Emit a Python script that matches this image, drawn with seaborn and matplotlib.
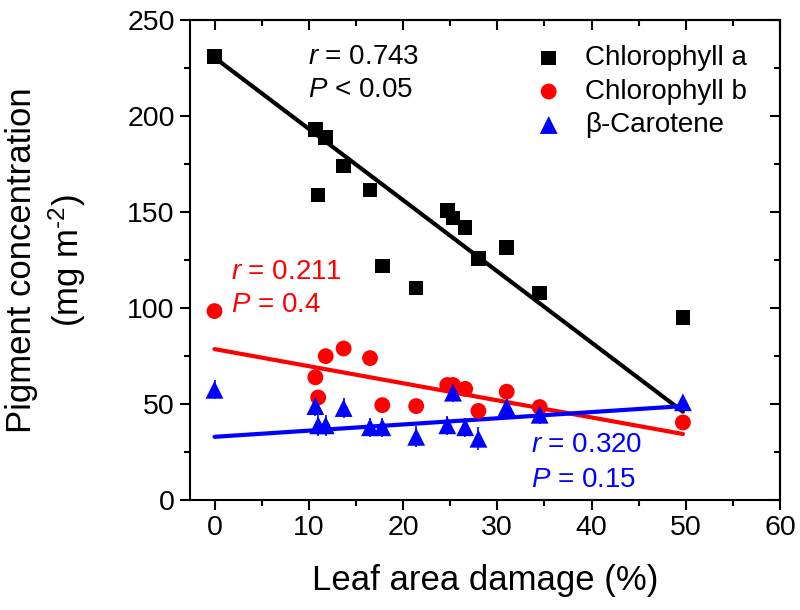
import numpy as np
import pandas as pd
import matplotlib
matplotlib.use("Agg")
import matplotlib.pyplot as plt
from matplotlib.ticker import MultipleLocator
import seaborn as sns

# data
damage = [0, 10.7, 11.0, 11.8, 13.7, 16.5, 17.8, 21.4, 24.7, 25.3, 26.6, 28.0, 31.0, 34.5, 49.7]
chl_a = [231, 193, 159, 189, 174, 161.5, 122, 110.5, 151, 147, 142, 126, 131.5, 108, 95]
chl_b = [98.5, 64, 53.5, 75, 79, 74, 49.5, 49, 60, 60, 58, 46.5, 56.5, 48.5, 40.5]
carotene = [57.5, 49, 39, 39, 48, 38, 38, 33, 39, 56, 38, 32, 48.5, 44.5, 51]
carotene_err = [5, 5, 5.5, 5.5, 5, 5, 5, 5.5, 5, 5, 5, 6, 5, 5, 0]

series_names = ["Chlorophyll a", "Chlorophyll b", "\u03b2-Carotene"]
series_colors = ["#000000", "#ff0000", "#0000ff"]
series_markers = ["s", "o", "^"]
marker_sizes = [110, 130, 165]

# fitted lines (intercept, slope) as drawn in the figure
fit_intercept = [230.5, 78.7, 33.0]
fit_slope = [-3.71, -0.89, 0.322]
stat_r = ["0.743", "0.211", "0.320"]
stat_p = ["< 0.05", "= 0.4", "= 0.15"]

sns.set_theme(style="ticks")
plt.rcParams["font.family"] = ["Liberation Sans", "DejaVu Sans"]
plt.rcParams["mathtext.fontset"] = "custom"
plt.rcParams["mathtext.rm"] = "Liberation Sans"
plt.rcParams["mathtext.it"] = "Liberation Sans:italic"
plt.rcParams.update({"text.color": "black", "axes.labelcolor": "black",
                     "xtick.color": "black", "ytick.color": "black"})

df = pd.DataFrame({"damage": damage, series_names[0]: chl_a,
                   series_names[1]: chl_b, series_names[2]: carotene})
long = df.melt(id_vars="damage", var_name="pigment", value_name="conc")

fig = plt.figure(figsize=(8, 6.1), dpi=100)
ax = fig.add_axes([0.2375, 0.18, 0.7375, 0.787])

# error bars on carotene
ax.errorbar(damage, carotene, yerr=carotene_err, fmt="none",
            ecolor=series_colors[2], elinewidth=1.2, capsize=0, zorder=2)

xfit = np.array([min(damage), max(damage)])
for a, b, c in zip(fit_intercept, fit_slope, series_colors):
    sns.lineplot(x=xfit, y=a + b * xfit, color=c, linewidth=3, ax=ax, zorder=3)

for name, c, m, sz in zip(series_names, series_colors, series_markers, marker_sizes):
    sub = long[long["pigment"] == name]
    sns.scatterplot(data=sub, x="damage", y="conc", color=c, marker=m,
                    s=sz, edgecolor="none", label=name, ax=ax, zorder=4)

ax.set_xlim(-2.6, 60)
ax.set_ylim(0, 250)
ax.xaxis.set_major_locator(MultipleLocator(10))
ax.xaxis.set_minor_locator(MultipleLocator(5))
ax.yaxis.set_major_locator(MultipleLocator(50))
ax.yaxis.set_minor_locator(MultipleLocator(25))

for s in ax.spines.values():
    s.set_visible(True)
    s.set_linewidth(1.5)
    s.set_color("black")
ax.tick_params(axis="both", which="major", length=7.5, width=1.5, labelsize=20.5,
               colors="black", direction="out")
ax.tick_params(axis="both", which="minor", length=4, width=1.5, direction="out")

# top and right ticks point inward
sec_x = ax.secondary_xaxis("top")
sec_x.xaxis.set_major_locator(MultipleLocator(10))
sec_x.xaxis.set_minor_locator(MultipleLocator(5))
sec_x.tick_params(which="both", direction="in", labeltop=False, width=1.5)
sec_x.tick_params(which="major", length=7.5)
sec_x.tick_params(which="minor", length=4)
sec_x.spines["top"].set_linewidth(1.5)
sec_y = ax.secondary_yaxis("right")
sec_y.yaxis.set_major_locator(MultipleLocator(50))
sec_y.yaxis.set_minor_locator(MultipleLocator(25))
sec_y.tick_params(which="both", direction="in", labelright=False, width=1.5)
sec_y.tick_params(which="major", length=7.5)
sec_y.tick_params(which="minor", length=4)
sec_y.spines["right"].set_linewidth(1.5)

ax.set_xlabel("Leaf area damage (%)", fontsize=25, labelpad=16)
ax.set_ylabel("Pigment concentration\n(mg m$^{\\text{-2}}$)", fontsize=25,
              linespacing=1.25)
ax.yaxis.set_label_coords(-0.173, 0.5)

# r / P annotations
ann_pos = [((9.9, 230.7), (9.9, 213.5)),
           ((1.7, 118.8), (1.7, 101.5)),
           ((33.6, 28.6), (33.6, 10.4))]
for (p1, p2), r, p, c in zip(ann_pos, stat_r, stat_p, series_colors):
    ax.text(p1[0], p1[1], f"$r$ = {r}", color=c, fontsize=20, va="center")
    ax.text(p2[0], p2[1], f"$P$ {p}", color=c, fontsize=20, va="center")

ax.legend(loc="upper right", bbox_to_anchor=(1.0, 1.017), frameon=False,
          fontsize=20, handletextpad=0.3, labelspacing=0.27, borderaxespad=0.8,
          markerscale=1.0)

plt.savefig("out.png", dpi=100)
